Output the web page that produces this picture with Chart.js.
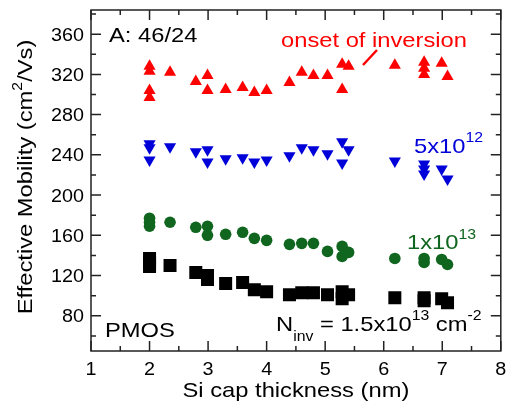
<!DOCTYPE html>
<html>
<head>
<meta charset="utf-8">
<script src="https://cdn.jsdelivr.net/npm/chart.js@4.4.1/dist/chart.umd.min.js"></script>
<style>
  html, body { margin: 0; padding: 0; background: #fff; }
  #chart { display: block; }
</style>
</head>
<body>
<canvas id="chart" width="510" height="404"></canvas>
<script>
// Si cap thickness (nm) vs effective mobility (cm2/Vs), one array pair per Ninv
var onset_x = [2, 2, 2, 2, 2.35, 2.79, 2.99, 2.99, 3.3, 3.59, 3.79, 4, 4.39, 4.6, 4.8, 5.04, 5.29, 5.29, 5.4, 6.19, 6.69, 6.69, 6.69, 6.99, 7.09];
var onset_y = [328, 323, 304, 297, 322, 313, 319, 304, 305, 307, 302, 304, 312, 322, 319, 319, 330, 305, 328, 329, 332, 326, 320, 331, 318];

var n5e12_x = [2, 2, 2, 2.35, 2.79, 2.99, 2.99, 3.3, 3.59, 3.79, 4, 4.39, 4.6, 4.8, 5.04, 5.29, 5.29, 5.4, 6.19, 6.69, 6.69, 6.69, 6.99, 7.09];
var n5e12_y = [251, 247, 235, 248, 243, 245, 233, 236, 237, 233, 235, 239, 247, 245, 241, 253, 232, 245, 234, 231, 226, 221, 226, 216];

var n1e13_x = [2, 2, 2, 2.35, 2.79, 2.99, 2.99, 3.3, 3.59, 3.79, 4, 4.39, 4.6, 4.8, 5.04, 5.29, 5.29, 5.4, 6.19, 6.69, 6.69, 6.99, 7.09];
var n1e13_y = [177, 173, 169, 173, 168, 169, 160, 161, 163, 157, 155, 151, 152, 152, 144, 149, 139, 143, 137, 137, 133, 136, 131];

var n15e13_x = [2, 2, 2, 2.35, 2.79, 2.99, 2.99, 3.3, 3.59, 3.79, 4, 4.39, 4.6, 4.8, 5.04, 5.29, 5.29, 5.4, 6.19, 6.69, 6.69, 6.99, 7.09];
var n15e13_y = [137, 133, 129, 130, 123, 120, 116, 112, 113, 106, 104, 101, 103, 103, 101, 104, 97, 101, 98, 98, 95, 97, 93];

var xTicks = [1, 2, 3, 4, 5, 6, 7, 8];
var xMinor = [1.5, 2.5, 3.5, 4.5, 5.5, 6.5, 7.5];
var yTicks = [80, 120, 160, 200, 240, 280, 320, 360];
var yMinor = [60, 100, 140, 180, 220, 260, 300, 340, 380];

var FONT = '"Liberation Sans", Arial, sans-serif';
var STRETCH = 1.13;   // the original lettering is a bit wider than Arial

function pts(xs, ys) {
    var out = [];
    for (let i = 0; i < xs.length; i++) {
        out.push({x: xs[i], y: ys[i]});
    }
    return out;
}

// parts: [text, size, dy]
function drawRich(ctx, parts, x, y, align, color, angle) {
    ctx.save();
    ctx.fillStyle = color;
    ctx.textBaseline = 'alphabetic';
    ctx.textAlign = 'left';
    let total = 0;
    parts.forEach(function (p) {
        ctx.font = p[1] + 'px ' + FONT;
        total += ctx.measureText(p[0]).width;
    });
    let cx = 0;
    if (align === 'center') cx = -total / 2;
    if (align === 'right') cx = -total;
    ctx.translate(x, y);
    if (angle) ctx.rotate(angle);
    ctx.scale(STRETCH, 1);
    parts.forEach(function (p) {
        ctx.font = p[1] + 'px ' + FONT;
        ctx.fillText(p[0], cx, p[2] || 0);
        cx += ctx.measureText(p[0]).width;
    });
    ctx.restore();
}

var frame = {
    id: 'frame',
    afterDraw: function (chart) {
        var ctx = chart.ctx;
        var a = chart.chartArea;
        var xs = chart.scales.x, ys = chart.scales.y;

        ctx.save();
        ctx.strokeStyle = '#222';
        ctx.lineWidth = 1.5;
        ctx.strokeRect(a.left, a.top, a.right - a.left, a.bottom - a.top);

        function tickX(v, len) {
            var p = xs.getPixelForValue(v);
            ctx.beginPath();
            ctx.moveTo(p, a.bottom); ctx.lineTo(p, a.bottom - len);
            ctx.moveTo(p, a.top); ctx.lineTo(p, a.top + len);
            ctx.stroke();
        }
        function tickY(v, len) {
            var p = ys.getPixelForValue(v);
            ctx.beginPath();
            ctx.moveTo(a.left, p); ctx.lineTo(a.left + len, p);
            ctx.moveTo(a.right, p); ctx.lineTo(a.right - len, p);
            ctx.stroke();
        }
        xs.ticks.forEach(function (t) { tickX(t.value, 10); });
        xMinor.forEach(function (v) { tickX(v, 5); });
        ys.ticks.forEach(function (t) { tickY(t.value, 10); });
        yMinor.forEach(function (v) { tickY(v, 5); });
        ctx.restore();

        // tick labels
        xs.ticks.forEach(function (t) {
            drawRich(ctx, [[String(t.value), 17.5]], xs.getPixelForValue(t.value), 375, 'center', '#000');
        });
        ys.ticks.forEach(function (t) {
            drawRich(ctx, [[String(t.value), 17.5]], 84, ys.getPixelForValue(t.value) + 6.5, 'right', '#000');
        });

        // axis titles
        drawRich(ctx, [['Si cap thickness (nm)', 21]], (a.left + a.right) / 2, 397, 'center', '#000');
        drawRich(ctx, [['Effective Mobility (cm', 21], ['2', 14, -10], ['/Vs)', 21]], 32, 177, 'center', '#000', -Math.PI / 2);

        // annotations
        drawRich(ctx, [['A: 46/24', 21]], 109, 42, 'left', '#000');
        drawRich(ctx, [['onset of inversion', 21]], 281, 47, 'left', '#ff0000');
        ctx.save();
        ctx.strokeStyle = '#ff0000';
        ctx.lineWidth = 2.5;
        ctx.beginPath();
        ctx.moveTo(363, 65);
        ctx.lineTo(377, 50);
        ctx.stroke();
        ctx.restore();
        drawRich(ctx, [['5x10', 21], ['12', 14, -11]], 414, 153, 'left', '#0000d8');
        drawRich(ctx, [['1x10', 21], ['13', 14, -10]], 407, 249, 'left', '#10661e');
        drawRich(ctx, [['PMOS', 21]], 105, 337, 'left', '#000');
        drawRich(ctx, [['N', 21], ['inv', 14, 10], [' = 1.5x10', 21], ['13', 14, -11], [' cm', 21], ['-2', 14, -11]], 276, 331, 'left', '#000');
    }
};

var ctx = document.getElementById('chart');

var chart = new Chart(ctx, {
    type: 'scatter',
    data: {
        datasets: [{
            label: 'onset of inversion',
            data: pts(onset_x, onset_y),
            pointStyle: 'triangle',
            pointRadius: 7,
            backgroundColor: '#ff0000',
            borderWidth: 0
        }, {
            label: '5x10^12',
            data: pts(n5e12_x, n5e12_y),
            pointStyle: 'triangle',
            rotation: 180,
            pointRadius: 7,
            backgroundColor: '#0000d8',
            borderWidth: 0
        }, {
            label: '1x10^13',
            data: pts(n1e13_x, n1e13_y),
            pointStyle: 'circle',
            pointRadius: 5.8,
            backgroundColor: '#10661e',
            borderWidth: 0
        }, {
            label: '1.5x10^13',
            data: pts(n15e13_x, n15e13_y),
            pointStyle: 'rect',
            pointRadius: 9.2,
            backgroundColor: '#000',
            borderWidth: 0
        }]
    },
    options: {
        responsive: false,
        animation: false,
        layout: { padding: { top: 10, right: 3, left: 0, bottom: 0 } },
        plugins: {
            legend: { display: false },
            tooltip: { enabled: false }
        },
        scales: {
            x: {
                type: 'linear',
                min: 1,
                max: 8,
                grid: { display: false },
                border: { display: false },
                ticks: { display: false },
                afterBuildTicks: function (s) { s.ticks = xTicks.map(function (v) { return {value: v}; }); },
                afterFit: function (s) { s.height = 53; }
            },
            y: {
                min: 45,
                max: 384,
                grid: { display: false },
                border: { display: false },
                ticks: { display: false },
                afterBuildTicks: function (s) { s.ticks = yTicks.map(function (v) { return {value: v}; }); },
                afterFit: function (s) { s.width = 91; }
            }
        }
    },
    plugins: [frame]
});
</script>
</body>
</html>
